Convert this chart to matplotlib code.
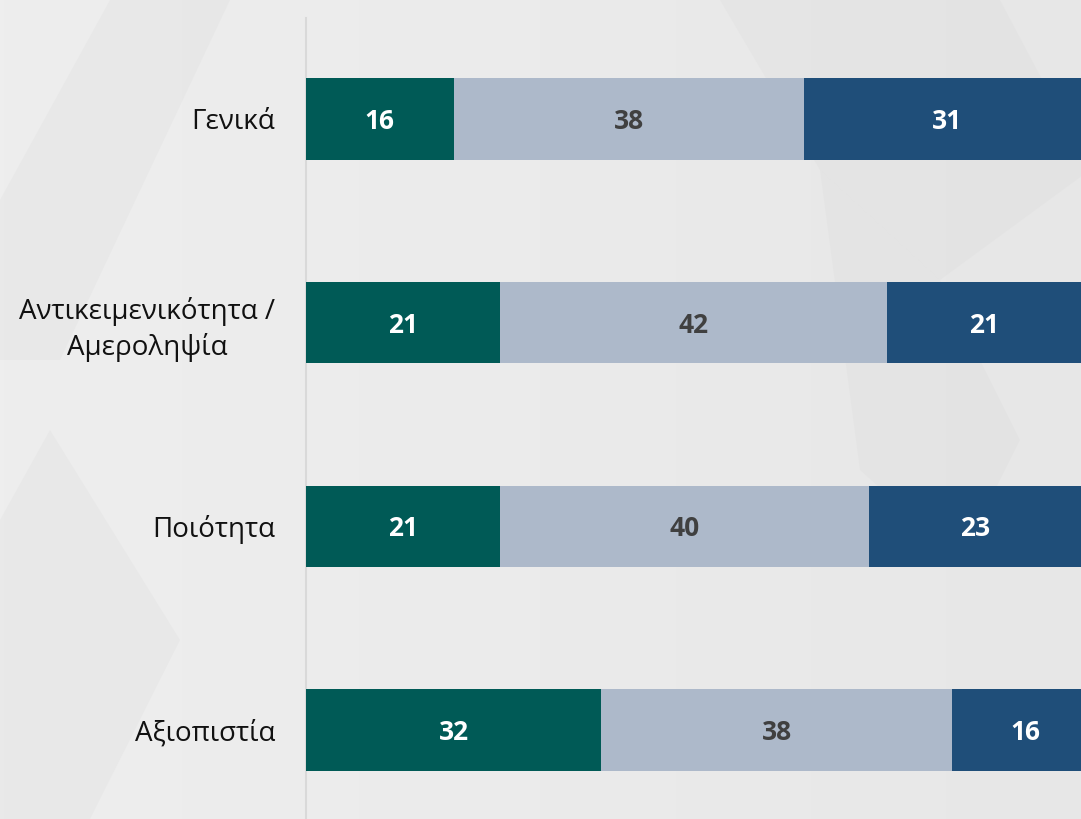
import matplotlib
matplotlib.use("Agg")
import matplotlib.pyplot as plt
from matplotlib.patches import Polygon
import numpy as np

categories = ["Γενικά", "Αντικειμενικότητα /\nΑμεροληψία", "Ποιότητα", "Αξιοπιστία"]
series_a = [16, 21, 21, 32]
series_b = [38, 42, 40, 38]
series_c = [31, 21, 23, 16]

colors = ["#005A56", "#ADB9CA", "#1F4E79"]
text_colors = ["white", "#404040", "white"]

plt.rcParams['font.family'] = ['Open Sans', 'DejaVu Sans']

W, H = 1081, 819
fig = plt.figure(figsize=(W / 100, H / 100), dpi=100)
fig.patch.set_facecolor("#eaeaea")

# subtle background geometry (decoration)
bg = fig.add_axes([0, 0, 1, 1], zorder=0)
bg.set_xlim(0, W)
bg.set_ylim(H, 0)
bg.axis("off")
grad = np.linspace(0, 1, 256).reshape(1, -1)
bg.imshow(grad, extent=[0, W, H, 0], cmap=matplotlib.colors.LinearSegmentedColormap.from_list(
    "g", ["#eeeeee", "#ebebeb", "#e7e7e7"]), aspect="auto", zorder=0)
shapes = [
    [(720, 0), (1000, 0), (1090, 170), (940, 280), (820, 170)],
    [(820, 170), (940, 280), (1020, 440), (960, 560), (860, 470)],
    [(0, 200), (110, 0), (230, 0), (60, 360), (0, 360)],
    [(50, 430), (180, 640), (90, 819), (0, 819), (0, 520)],
]
for pts in shapes:
    bg.add_patch(Polygon(pts, closed=True, facecolor="#d8d8d8", alpha=0.22,
                         edgecolor="none", zorder=1))

ax = fig.add_axes([306 / W, 0, 1 - 306 / W, (H - 18) / H], zorder=2)
ax.set_facecolor("none")

y = np.arange(len(categories))
left = np.zeros(len(categories))
for vals, c, tc in zip([series_a, series_b, series_c], colors, text_colors):
    vals = np.array(vals, dtype=float)
    ax.barh(y, vals, left=left, height=0.4, color=c, edgecolor="none", zorder=3)
    for yi, l, v in zip(y, left, vals):
        ax.text(l + v / 2, yi + 0.012, f"{int(v)}", ha="center", va="center",
                color=tc, fontsize=19, fontweight="bold", zorder=4)
    left += vals

ax.set_xlim(0, 84.0)
ax.set_ylim(3.436, -0.495)
ax.set_yticks(y)
ax.set_yticklabels(categories, fontsize=20, color="#111111", ha="right",
                   multialignment="center", linespacing=1.3)
ax.tick_params(axis="y", length=0, pad=22)
ax.set_xticks([])
for s in ["top", "right", "bottom"]:
    ax.spines[s].set_visible(False)
ax.spines["left"].set_color("#d9d9d9")
ax.spines["left"].set_linewidth(1.5)

fig.savefig("out.png", dpi=100, facecolor=fig.get_facecolor())
